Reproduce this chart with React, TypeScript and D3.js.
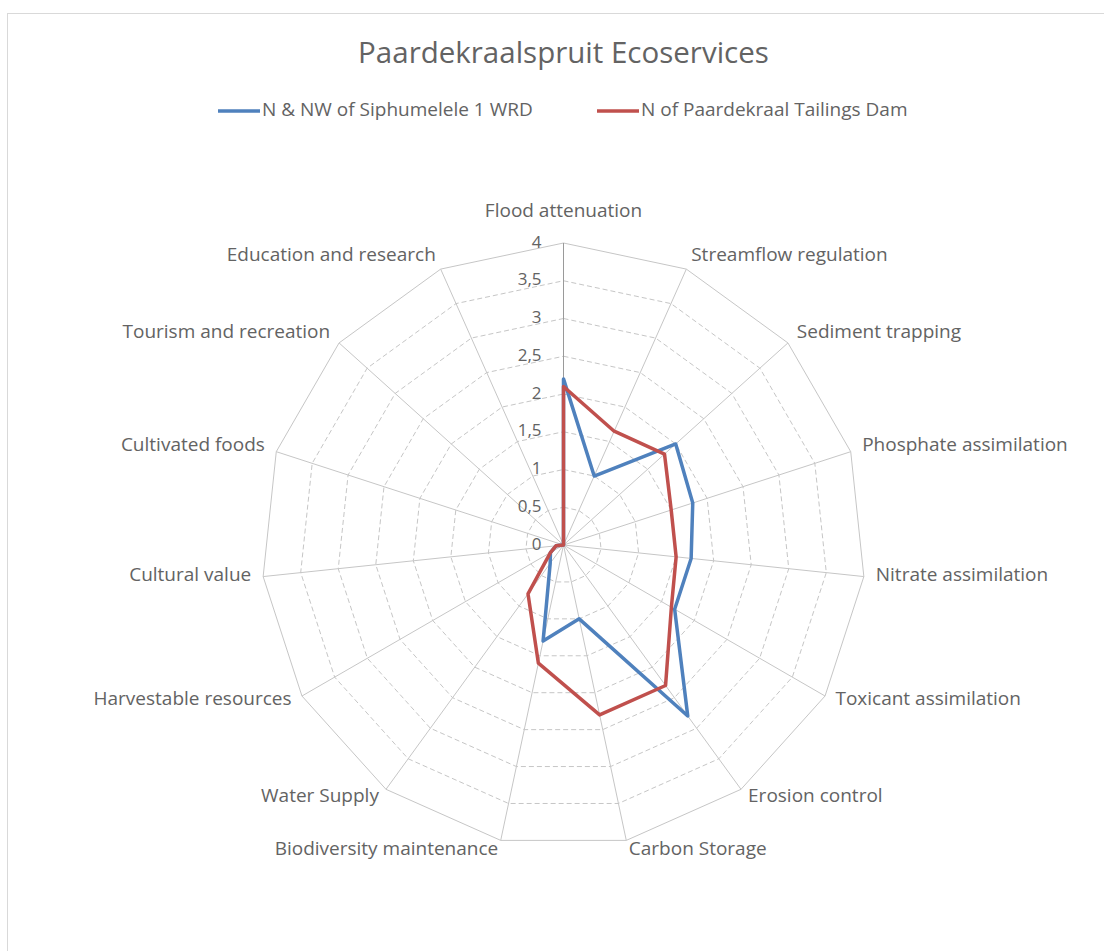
import React, { useEffect, useRef } from 'react';
import * as d3 from 'd3';

const categories = [
  'Flood attenuation',
  'Streamflow regulation',
  'Sediment trapping',
  'Phosphate assimilation',
  'Nitrate assimilation',
  'Toxicant assimilation',
  'Erosion control',
  'Carbon Storage',
  'Biodiversity maintenance',
  'Water Supply',
  'Harvestable resources',
  'Cultural value',
  'Cultivated foods',
  'Tourism and recreation',
  'Education and research',
];

const siphumeleleValues = [2.2, 1.0, 2.0, 1.8, 1.7, 1.7, 2.8, 1.0, 1.3, 0.3, 0.2, 0.1, 0, 0, 0];
const paardekraalValues = [2.1, 1.65, 1.8, 1.5, 1.5, 1.65, 2.3, 2.3, 1.6, 0.8, 0.2, 0.1, 0, 0, 0];

const tickValues = [0, 0.5, 1, 1.5, 2, 2.5, 3, 3.5, 4];
const tickLabels = ['0', '0,5', '1', '1,5', '2', '2,5', '3', '3,5', '4'];

const seriesNames = ['N & NW of Siphumelele 1 WRD', 'N of Paardekraal Tailings Dam'];
const seriesColors = ['#4F81BD', '#C0504D'];

const FONT = '"Open Sans", sans-serif';
const TEXT = '#636363';

const App = () => {
  const svgRef = useRef<SVGSVGElement>(null);

  useEffect(() => {
    const svg = d3.select(svgRef.current);
    svg.selectAll('*').remove();

    const cx = 563.5;
    const cy = 545;
    const R = 302;

    // chart frame (runs past the right and bottom edges)
    svg
      .append('rect')
      .attr('x', 7.5)
      .attr('y', 13.5)
      .attr('width', 1200)
      .attr('height', 1200)
      .attr('fill', '#fff')
      .attr('stroke', '#D9D9D9');

    svg
      .append('text')
      .attr('x', cx)
      .attr('y', 55)
      .attr('text-anchor', 'middle')
      .attr('dominant-baseline', 'middle')
      .attr('font-family', FONT)
      .attr('font-size', 29.5)
      .attr('fill', TEXT)
      .text('Paardekraalspruit Ecoservices');

    // legend
    const legendItems = [
      { x: 218, name: seriesNames[0], color: seriesColors[0] },
      { x: 597, name: seriesNames[1], color: seriesColors[1] },
    ];
    const legend = svg.append('g');
    legendItems.forEach((d) => {
      legend
        .append('line')
        .attr('x1', d.x)
        .attr('x2', d.x + 42)
        .attr('y1', 111)
        .attr('y2', 111)
        .attr('stroke', d.color)
        .attr('stroke-width', 3.5);
      legend
        .append('text')
        .attr('x', d.x + 44)
        .attr('y', 111)
        .attr('dominant-baseline', 'middle')
        .attr('font-family', FONT)
        .attr('font-size', 19)
        .attr('fill', TEXT)
        .text(d.name);
    });

    const r = d3.scaleLinear().domain([0, 4]).range([0, R]);
    const angle = d3
      .scaleLinear()
      .domain([0, categories.length])
      .range([0, 2 * Math.PI]);

    const g = svg.append('g').attr('transform', `translate(${cx},${cy})`);

    const ring = d3
      .lineRadial<number>()
      .angle((_, i) => angle(i))
      .radius((d) => r(d))
      .curve(d3.curveLinearClosed);

    // rings
    tickValues.slice(1).forEach((t) => {
      g.append('path')
        .attr('d', ring(categories.map(() => t)))
        .attr('fill', 'none')
        .attr('stroke', '#C6C6C6')
        .attr('stroke-width', 1)
        .attr('stroke-dasharray', t === 4 ? null : '5,3');
    });

    // spokes
    categories.forEach((_, i) => {
      const a = angle(i);
      g.append('line')
        .attr('x1', 0)
        .attr('y1', 0)
        .attr('x2', Math.sin(a) * R)
        .attr('y2', -Math.cos(a) * R)
        .attr('stroke', i === 0 ? '#9A9A9A' : '#C6C6C6')
        .attr('stroke-width', 1);
    });

    // value axis labels
    tickValues.forEach((t, i) => {
      g.append('text')
        .attr('x', -22)
        .attr('y', -r(t))
        .attr('text-anchor', 'end')
        .attr('dominant-baseline', 'middle')
        .attr('font-family', FONT)
        .attr('font-size', 17)
        .attr('fill', TEXT)
        .text(tickLabels[i]);
    });

    // category labels
    categories.forEach((c, i) => {
      const a = angle(i);
      const s = Math.sin(a);
      const lr = R + 12;
      const x = s * lr;
      let y = -Math.cos(a) * lr - 2;
      let anchor = 'middle';
      if (i === 0) {
        y = -R - 31;
      } else {
        anchor = s > 0 ? 'start' : 'end';
      }
      g.append('text')
        .attr('x', x)
        .attr('y', y)
        .attr('text-anchor', anchor)
        .attr('dominant-baseline', 'middle')
        .attr('font-family', FONT)
        .attr('font-size', 19)
        .attr('fill', TEXT)
        .text(c);
    });

    // series
    [siphumeleleValues, paardekraalValues].forEach((vals, k) => {
      g.append('path')
        .attr('d', ring(vals))
        .attr('fill', 'none')
        .attr('stroke', seriesColors[k])
        .attr('stroke-width', 3.5)
        .attr('stroke-linejoin', 'round');
    });

    return () => {
      svg.selectAll('*').remove();
    };
  }, []);

  return (
    <svg
      ref={svgRef}
      width={1104}
      height={951}
      style={{ position: 'absolute', left: 0, top: 0, background: '#fff' }}
    />
  );
};

export default App;
